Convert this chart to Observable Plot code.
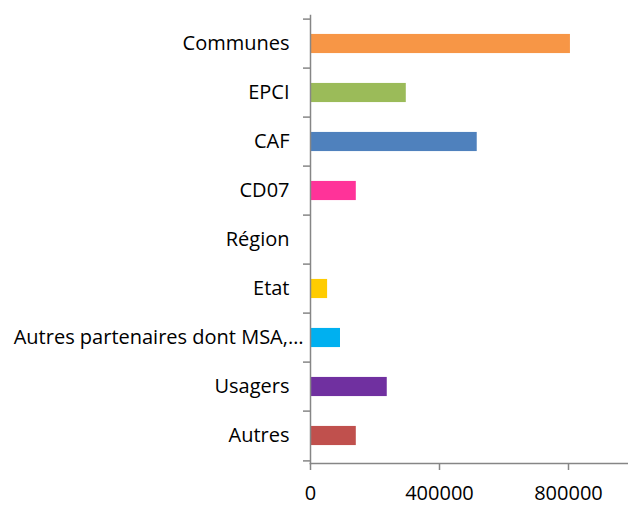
<!DOCTYPE html>
<html>
<head>
<meta charset="utf-8">
<script src="https://cdn.jsdelivr.net/npm/d3@7"></script>
<script src="https://cdn.jsdelivr.net/npm/@observablehq/plot@0.6"></script>
<style>
  html, body { margin: 0; padding: 0; background: #fff; }
  #chart { width: 628px; height: 505px; }
</style>
</head>
<body>
<div id="chart"></div>
<script>
const categories = ["Communes", "EPCI", "CAF", "CD07", "Région", "Etat", "Autres partenaires dont MSA,…", "Usagers", "Autres"];
const values = [806000, 297000, 517000, 142000, 0, 53000, 93000, 238000, 142000];
const colors = ["#F79646", "#9BBB59", "#4F81BD", "#FF3399", "#8064A2", "#FFCC00", "#00B0F0", "#7030A0", "#C0504D"];
const xTicks = [0, 400000, 800000];

const data = categories.map((c, i) => ({category: c, value: values[i], color: colors[i]}));

const W = 628, H = 505;
const mL = 310, mT = 15, mB = 42;
const step = (H - mT - mB) / categories.length;
const xMax = 1000000;
const xRange = [mL, mL + 322.5];
const pxToData = xMax / (xRange[1] - xRange[0]);
const axisColor = "#868686";
const longLabel = categories[6];

const chart = Plot.plot({
  width: W,
  height: H,
  marginLeft: mL,
  marginRight: 0,
  marginTop: mT,
  marginBottom: mB,
  style: {fontFamily: "'Open Sans', sans-serif", fontSize: "20px", color: "#000", background: "#fff"},
  x: {domain: [0, xMax], range: xRange, ticks: xTicks, tickFormat: d => String(d)},
  y: {domain: categories, padding: 0, axis: null},
  marks: [
    Plot.barX(data, {y: "category", x: "value", fill: "color", insetTop: step * 0.3, insetBottom: step * 0.3}),
    Plot.frame({anchor: "left", stroke: axisColor, strokeWidth: 1.5}),
    Plot.frame({anchor: "bottom", stroke: axisColor, strokeWidth: 1.5}),
    Plot.ruleY(categories, {y: d => d, x1: -7 * pxToData, x2: 0, dy: -step / 2, stroke: axisColor, strokeWidth: 1.5}),
    Plot.ruleY(categories.slice(-1), {y: d => d, x1: -7 * pxToData, x2: 0, dy: step / 2, stroke: axisColor, strokeWidth: 1.5}),
    Plot.axisX({ticks: xTicks, tickFormat: d => String(d), tickSize: 7, tickPadding: 15, stroke: axisColor, strokeWidth: 1.5, fill: "#000", fontSize: 20, label: null}),
    Plot.text(categories.filter(c => c !== longLabel), {y: d => d, x: 0, text: d => d, textAnchor: "end", dx: -21, fill: "#000", fontSize: 20}),
    Plot.text([longLabel], {y: d => d, x: 0, text: d => d, textAnchor: "end", dx: -7, fill: "#000", fontSize: 20})
  ]
});
document.getElementById("chart").appendChild(chart);
</script>
</body>
</html>
